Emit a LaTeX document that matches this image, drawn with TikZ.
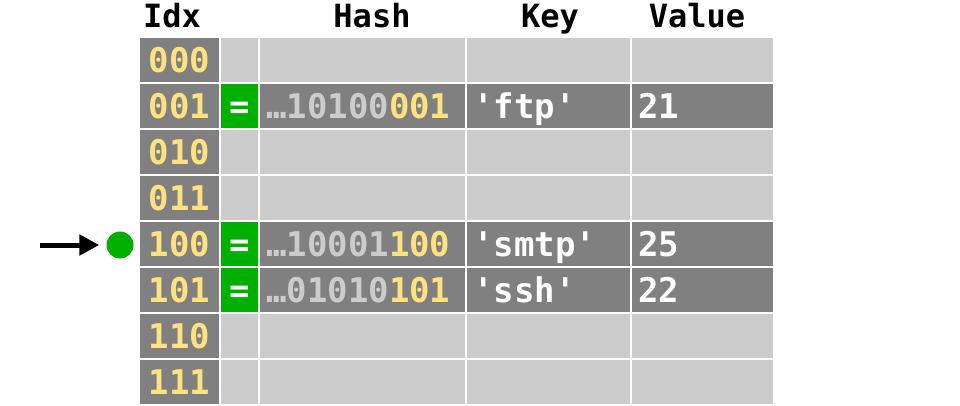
\documentclass[tikz,border=0pt]{standalone}
\usepackage{fontspec}
\setmonofont{DejaVu Sans Mono}
\usetikzlibrary{arrows.meta}

\definecolor{cellDark}{HTML}{808080}
\definecolor{cellLight}{HTML}{CCCCCC}
\definecolor{bitYellow}{HTML}{FFE27F}
\definecolor{eqGreen}{HTML}{00B000}

\tikzset{
  cell/.style={anchor=north west,inner sep=0pt,minimum height=44pt},
  idxcol/.style={cell,minimum width=79pt,fill=cellDark},
  eqcol/.style={cell,minimum width=37pt},
  hashcol/.style={cell,minimum width=205pt},
  keycol/.style={cell,minimum width=163pt},
  valcol/.style={cell,minimum width=141pt},
  celltext/.style={inner sep=0pt,font=\ttfamily\bfseries\fontsize{34}{40}\selectfont},
  headtext/.style={inner sep=0pt,anchor=base,font=\ttfamily\bfseries\fontsize{32}{38}\selectfont},
}

\begin{document}
\begin{tikzpicture}[x=1pt,y=-1pt]
\useasboundingbox (0,0) rectangle (960,406);

%headers
\node[headtext] (head-idx) at (172,28) {Idx};
\node[headtext] (head-hash) at (372,28) {Hash};
\node[headtext] (head-key) at (550,28) {Key};
\node[headtext] (head-val) at (697,28) {Value};

%index column
\foreach \r/\bits in {0/000,1/001,2/010,3/011,4/100,5/101,6/110,7/111} {
  \node[idxcol] (idx-\r) at (140,38+46*\r) {};
  \node[celltext,anchor=base,text=bitYellow] (idxtxt-\r) at ([yshift=-12pt]idx-\r.center) {\bits};
}

%empty slots
\foreach \r in {0,2,3,6,7} {
  \node[eqcol,fill=cellLight] (eq-\r) at (221,38+46*\r) {};
  \node[hashcol,fill=cellLight] (hash-\r) at (260,38+46*\r) {};
  \node[keycol,fill=cellLight] (key-\r) at (467,38+46*\r) {};
  \node[valcol,fill=cellLight] (val-\r) at (632,38+46*\r) {};
}

%used slots
\foreach \r/\hg/\hy/\key/\val in {1/10100/001/ftp/21,4/10001/100/smtp/25,5/01010/101/ssh/22} {
  \node[eqcol,fill=eqGreen] (eq-\r) at (221,38+46*\r) {};
  \node[hashcol,fill=cellDark] (hash-\r) at (260,38+46*\r) {};
  \node[keycol,fill=cellDark] (key-\r) at (467,38+46*\r) {};
  \node[valcol,fill=cellDark] (val-\r) at (632,38+46*\r) {};
  \node[celltext,anchor=base,text=white] (eqtxt-\r) at ([yshift=-12pt]eq-\r.center) {=};
  \node[celltext,anchor=base west] (hashtxt-\r) at ([xshift=6pt,yshift=-12pt]hash-\r.west)
    {\textcolor{cellLight}{…\hg}\textcolor{bitYellow}{\hy}};
  \node[celltext,anchor=base west,text=white] (keytxt-\r) at ([xshift=6pt,yshift=-12pt]key-\r.west) {'\key'};
  \node[celltext,anchor=base west,text=white] (valtxt-\r) at ([xshift=6pt,yshift=-12pt]val-\r.west) {\val};
}

%lookup pointer
\node[circle,fill=eqGreen,inner sep=0pt,minimum size=27pt] (probe) at (120,245) {};
\coordinate (pointer) at (40,245);
\draw[line width=5pt,-{Triangle[length=20pt,width=20pt]},shorten >=7pt] (pointer) -- (probe);

\end{tikzpicture}
\end{document}
